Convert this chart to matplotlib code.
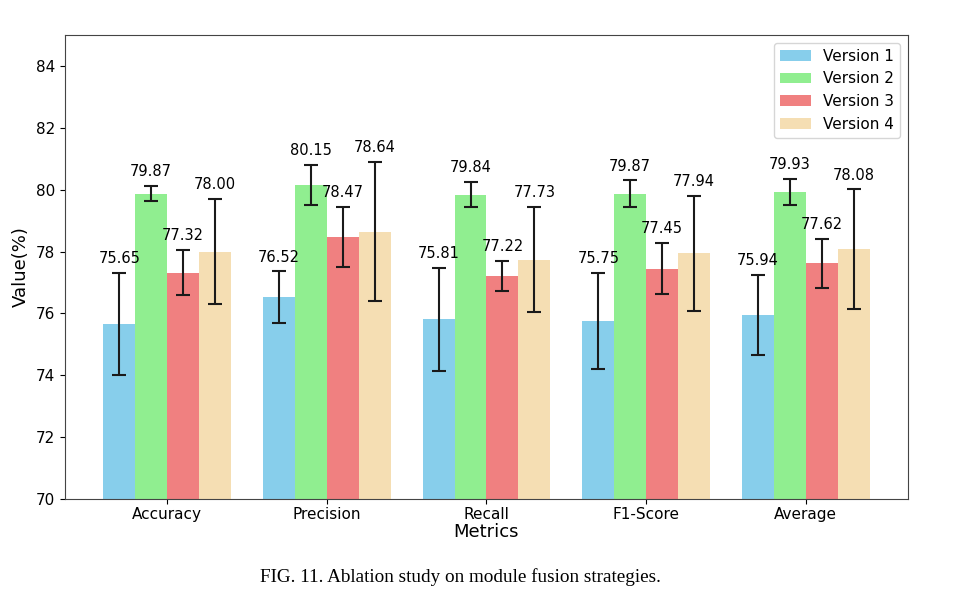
import numpy as np
import matplotlib.pyplot as plt

metrics = ['Accuracy', 'Precision', 'Recall', 'F1-Score', 'Average']
versions = ['Version 1', 'Version 2', 'Version 3', 'Version 4']
colors = ['#87CEEB', '#90EE90', '#F08080', '#F5DEB3']

v1 = [75.65, 76.52, 75.81, 75.75, 75.94]
v2 = [79.87, 80.15, 79.84, 79.87, 79.93]
v3 = [77.32, 78.47, 77.22, 77.45, 77.62]
v4 = [78.00, 78.64, 77.73, 77.94, 78.08]

e1 = [1.65, 0.84, 1.67, 1.55, 1.30]
e2 = [0.25, 0.64, 0.40, 0.43, 0.41]
e3 = [0.72, 0.98, 0.49, 0.83, 0.79]
e4 = [1.70, 2.25, 1.70, 1.85, 1.93]

vals = [v1, v2, v3, v4]
errs = [e1, e2, e3, e4]

fig = plt.figure(figsize=(9.78, 6.07), dpi=100)
ax = fig.add_axes([65/978, 1 - 499/607, 843/978, 464/607])

x = np.arange(len(metrics))
w = 0.2
for i in range(4):
    pos = x + (i - 1.5) * w
    ax.bar(pos, vals[i], w, yerr=errs[i], color=colors[i], label=versions[i],
           capsize=5, error_kw={'elinewidth': 1.5, 'capthick': 1.5, 'ecolor': '#1a1a1a'})
    for p, v, e in zip(pos, vals[i], errs[i]):
        ax.text(p, v + e + 0.22, '%.2f' % v, ha='center', va='bottom', fontsize=10.5)

ax.set_ylim(70, 85)
ax.set_yticks(range(70, 86, 2))
ax.set_xticks(x)
ax.set_xticklabels(metrics, fontsize=11)
ax.tick_params(axis='y', labelsize=11)
ax.tick_params(axis='x', pad=2)
ax.set_xlabel('Metrics', fontsize=13, labelpad=1)
ax.set_ylabel('Value(%)', fontsize=13)
for s in ax.spines.values():
    s.set_color('#444444')
ax.legend(loc='upper right', fontsize=11)

fig.text(460/978, 1 - 577/607, 'FIG. 11. Ablation study on module fusion strategies.',
         ha='center', va='center', fontsize=13.8, family='Liberation Serif')

fig.savefig('out.png', dpi=100)
